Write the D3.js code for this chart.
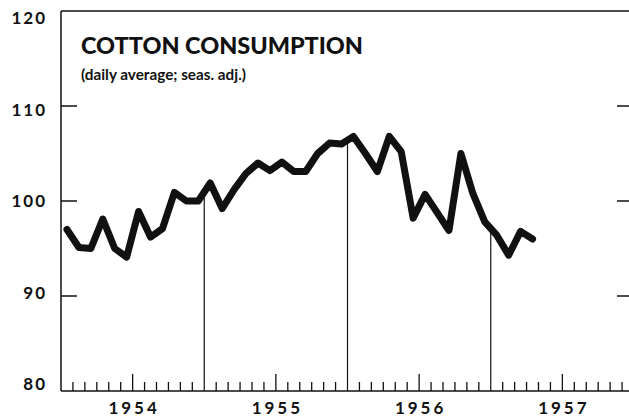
<!DOCTYPE html>
<html>
<head>
<meta charset="utf-8">
<script src="https://cdn.jsdelivr.net/npm/d3@7"></script>
<style>
  body { margin: 0; background: #fff; }
  text { font-family: Lato, "DejaVu Sans", sans-serif; fill: #111; }
</style>
</head>
<body>
<script>
// monthly values, Jan 1954 .. Apr 1957 (daily average, seas. adj.)
var years = [1954, 1955, 1956, 1957];
var consumption = [
    97, 95.1, 95, 98.1, 95, 94.1, 98.9, 96.2, 97.1, 100.9, 100, 100,
    101.9, 99.2, 101.2, 102.9, 104, 103.2, 104.1, 103.1, 103.1, 105, 106.1, 106,
    106.8, 105, 103.1, 106.8, 105.2, 98.2, 100.7, 98.8, 96.9, 105, 100.8, 97.8,
    96.4, 94.3, 96.8, 96.0
];
var yTicks = [80, 90, 100, 110, 120];
var titleText = "COTTON CONSUMPTION";
var subtitleText = "(daily average; seas. adj.)";

var width = 629, height = 417;

var svg = d3.select('body').append('svg')
    .attr('width', width)
    .attr('height', height);

// month index scale: 0 = start of Jan 1954, 48 = start of Jan 1958
var x = d3.scaleLinear().domain([0, 48]).range([61, 634]);
var y = d3.scaleLinear().domain([80, 120]).range([391, 11]);

var nodes = consumption.map(function (v, i) { return { m: i + 0.5, v: v }; });

// frame: top, left, bottom
svg.append('line').attr('x1', 61).attr('x2', width).attr('y1', y(120)).attr('y2', y(120))
    .attr('stroke', '#111').attr('stroke-width', 1.5);
svg.append('line').attr('x1', 61).attr('x2', 61).attr('y1', y(120)).attr('y2', y(80))
    .attr('stroke', '#111').attr('stroke-width', 1.5);
svg.append('line').attr('x1', 61).attr('x2', width).attr('y1', y(80)).attr('y2', y(80))
    .attr('stroke', '#111').attr('stroke-width', 1.5);

// inner value ticks, left and right
var inner = yTicks.filter(function (d) { return d > 80 && d < 120; });
svg.selectAll('.ltick').data(inner).enter().append('line')
    .attr('x1', 61).attr('x2', 77)
    .attr('y1', function (d) { return y(d); }).attr('y2', function (d) { return y(d); })
    .attr('stroke', '#111').attr('stroke-width', 1.5);
svg.selectAll('.rtick').data(inner).enter().append('line')
    .attr('x1', 617).attr('x2', width)
    .attr('y1', function (d) { return y(d); }).attr('y2', function (d) { return y(d); })
    .attr('stroke', '#111').attr('stroke-width', 1.5);

// value labels
svg.selectAll('.ylab').data(yTicks).enter().append('text')
    .attr('x', 47)
    .attr('y', function (d) { return y(d) + (d - 100) * 0.35; })
    .attr('dy', '0.36em')
    .attr('text-anchor', 'end')
    .style('font-size', '17px')
    .style('font-weight', 'bold')
    .style('letter-spacing', '2px')
    .text(function (d) { return d; });

// month ticks along the bottom (July ticks taller)
var months = d3.range(1, 48).filter(function (m) { return m % 12 !== 0; });
svg.selectAll('.mtick').data(months).enter().append('line')
    .attr('x1', function (d) { return x(d); }).attr('x2', function (d) { return x(d); })
    .attr('y1', y(80))
    .attr('y2', function (d) { return y(80) - (d % 12 === 6 ? 17 : 9); })
    .attr('stroke', '#111').attr('stroke-width', 1.3);

// year dividers rise to the curve
var interp = function (m) {
    var i = Math.floor(m - 0.5);
    var t = (m - 0.5) - i;
    return consumption[i] * (1 - t) + consumption[i + 1] * t;
};
svg.selectAll('.ydiv').data([12, 24, 36]).enter().append('line')
    .attr('x1', function (d) { return x(d); }).attr('x2', function (d) { return x(d); })
    .attr('y1', y(80))
    .attr('y2', function (d) { return y(interp(d)); })
    .attr('stroke', '#111').attr('stroke-width', 1.2);

// year labels
svg.selectAll('.xlab').data(years).enter().append('text')
    .attr('x', function (d, i) { return x(i * 12 + 6) + 1.5; })
    .attr('y', 414)
    .attr('text-anchor', 'middle')
    .style('font-size', '17px')
    .style('font-weight', 'bold')
    .style('letter-spacing', '3px')
    .text(function (d) { return d; });

// the series
var line = d3.line()
    .x(function (d) { return x(d.m); })
    .y(function (d) { return y(d.v); });
svg.append('path')
    .datum(nodes)
    .attr('d', line)
    .attr('fill', 'none')
    .attr('stroke', '#111')
    .attr('stroke-width', 7)
    .attr('stroke-linejoin', 'round')
    .attr('stroke-linecap', 'round');

// title block
svg.append('text')
    .attr('x', 81).attr('y', 54)
    .attr('textLength', 282).attr('lengthAdjust', 'spacingAndGlyphs')
    .style('font-size', '22px').style('font-weight', 900)
    .text(titleText);
svg.append('text')
    .attr('x', 81).attr('y', 80)
    .attr('textLength', 165).attr('lengthAdjust', 'spacingAndGlyphs')
    .style('font-size', '15px').style('font-weight', 'bold')
    .text(subtitleText);
</script>
</body>
</html>
